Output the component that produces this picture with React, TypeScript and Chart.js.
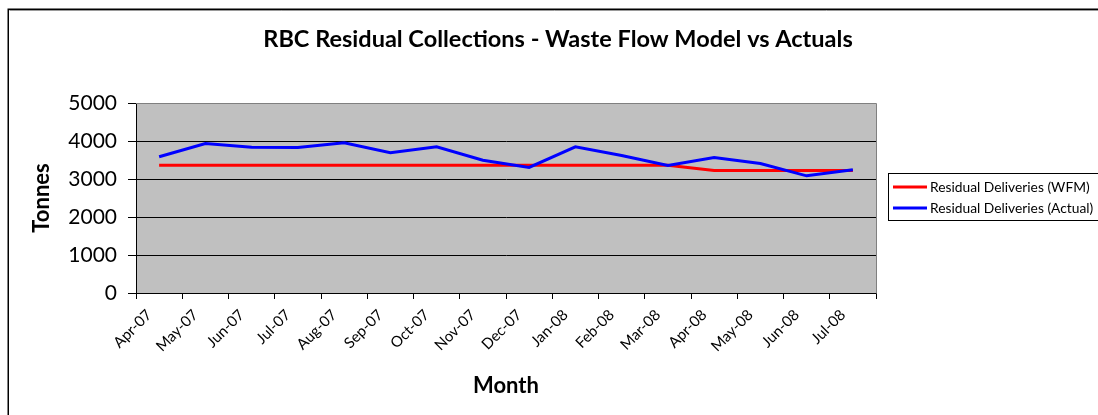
import React, { useEffect, useRef } from 'react';
import { Chart, registerables } from 'chart.js';

Chart.register(...registerables);

const chartTitle = 'RBC Residual Collections - Waste Flow Model vs Actuals';
const xAxisTitle = 'Month';
const yAxisTitle = 'Tonnes';

const months = [
  'Apr-07', 'May-07', 'Jun-07', 'Jul-07', 'Aug-07', 'Sep-07', 'Oct-07', 'Nov-07',
  'Dec-07', 'Jan-08', 'Feb-08', 'Mar-08', 'Apr-08', 'May-08', 'Jun-08', 'Jul-08',
];

const wfmName = 'Residual Deliveries (WFM)';
const wfmValues = [
  3364, 3364, 3364, 3364, 3364, 3364, 3364, 3364,
  3364, 3364, 3364, 3364, 3224, 3224, 3224, 3224,
];

const actualName = 'Residual Deliveries (Actual)';
const actualValues = [
  3584, 3934, 3837, 3832, 3952, 3689, 3847, 3495,
  3303, 3847, 3618, 3355, 3566, 3408, 3083, 3241,
];

const yMin = 0;
const yMax = 5000;
const yStep = 1000;

const WIDTH = 1098;
const HEIGHT = 415;
const FONT = 'Lato, "Liberation Sans", Arial, sans-serif';

const decorPlugin = {
  id: 'decor',
  beforeDraw(chart: any) {
    const { ctx, chartArea: a } = chart;
    ctx.save();
    ctx.fillStyle = '#ffffff';
    ctx.fillRect(0, 0, chart.width, chart.height);
    ctx.fillStyle = '#C0C0C0';
    ctx.fillRect(a.left, a.top, a.right - a.left, a.bottom - a.top);
    // outer frame
    ctx.strokeStyle = '#000000';
    ctx.lineWidth = 1.5;
    ctx.strokeRect(8.25, 9.25, chart.width + 40, chart.height + 40);
    ctx.strokeStyle = '#9a9a9a';
    ctx.lineWidth = 1;
    ctx.beginPath();
    ctx.moveTo(9.5, 10.5);
    ctx.lineTo(chart.width + 10, 10.5);
    ctx.stroke();
    // chart title
    ctx.fillStyle = '#000000';
    ctx.font = `bold 23.5px ${FONT}`;
    ctx.textAlign = 'center';
    ctx.textBaseline = 'alphabetic';
    ctx.fillText(chartTitle, 558, 47);
    ctx.restore();
  },
  beforeDatasetsDraw(chart: any) {
    const { ctx, chartArea: a } = chart;
    ctx.save();
    ctx.strokeStyle = '#808080';
    ctx.lineWidth = 1;
    ctx.beginPath();
    ctx.moveTo(a.left, Math.round(a.top) + 0.5);
    ctx.lineTo(Math.round(a.right) + 0.5, Math.round(a.top) + 0.5);
    ctx.lineTo(Math.round(a.right) + 0.5, Math.round(a.bottom) + 0.5);
    ctx.stroke();
    ctx.restore();
  },
  afterDraw(chart: any) {
    const { ctx } = chart;
    const datasets = chart.data.datasets;
    const items = [datasets[0], datasets[1]];
    ctx.save();
    ctx.fillStyle = '#ffffff';
    ctx.fillRect(888.5, 173.5, 300, 47);
    ctx.strokeStyle = '#000000';
    ctx.lineWidth = 1;
    ctx.strokeRect(888.5, 173.5, 300, 47);
    ctx.font = `13.8px ${FONT}`;
    ctx.textAlign = 'left';
    ctx.textBaseline = 'middle';
    items.forEach((ds: any, i: number) => {
      const y = 187 + i * 21;
      ctx.strokeStyle = ds.borderColor;
      ctx.lineWidth = 3;
      ctx.beginPath();
      ctx.moveTo(893, y);
      ctx.lineTo(927, y);
      ctx.stroke();
      ctx.fillStyle = '#000000';
      ctx.fillText(ds.label, 930, y + 0.5);
    });
    ctx.restore();
  },
};

export default function App() {
  const canvasRef = useRef<HTMLCanvasElement | null>(null);

  useEffect(() => {
    const canvas = canvasRef.current;
    if (!canvas) return;
    const chart = new Chart(canvas, {
      type: 'line',
      data: {
        labels: months,
        datasets: [
          {
            label: wfmName,
            data: wfmValues,
            borderColor: '#FF0000',
            backgroundColor: '#FF0000',
            borderWidth: 3,
            pointRadius: 0,
            tension: 0,
            order: 1,
          },
          {
            label: actualName,
            data: actualValues,
            borderColor: '#0000FF',
            backgroundColor: '#0000FF',
            borderWidth: 3,
            pointRadius: 0,
            tension: 0,
            order: 0,
          },
        ],
      },
      options: {
        responsive: false,
        animation: false,
        devicePixelRatio: 1,
        layout: { padding: { top: 103, right: WIDTH - 876, left: 0, bottom: 0 } },
        plugins: {
          legend: { display: false },
          title: { display: false },
          tooltip: { enabled: false },
        },
        scales: {
          x: {
            type: 'category',
            offset: true,
            afterFit(scale: any) {
              scale.height = HEIGHT - 293;
            },
            grid: {
              offset: true,
              drawOnChartArea: false,
              drawTicks: true,
              tickLength: 6,
              color: '#000000',
            },
            border: { color: '#000000', width: 1 },
            ticks: {
              autoSkip: false,
              maxRotation: 45,
              minRotation: 45,
              padding: 7,
              labelOffset: -10,
              color: '#000000',
              font: { family: FONT, size: 15 },
            },
            title: {
              display: true,
              text: xAxisTitle,
              color: '#000000',
              font: { family: FONT, size: 22, weight: 'bold' },
              padding: { top: 0, bottom: 16 },
            },
          },
          y: {
            min: yMin,
            max: yMax,
            afterFit(scale: any) {
              scale.width = 136;
            },
            grid: {
              color: (c: any) => (c.tick && c.tick.value === yMax ? '#808080' : '#000000'),
              tickColor: '#000000',
              tickLength: 8,
            },
            border: { color: '#000000', width: 1 },
            ticks: {
              stepSize: yStep,
              padding: 11,
              color: '#000000',
              font: { family: FONT, size: 21 },
              callback: (v: any) => String(v),
            },
            title: {
              display: true,
              text: yAxisTitle,
              color: '#000000',
              font: { family: FONT, size: 22, weight: 'bold' },
              padding: { top: 29, bottom: 0 },
            },
          },
        },
      },
      plugins: [decorPlugin],
    });
    return () => chart.destroy();
  }, []);

  return (
    <div style={{ position: 'absolute', left: 0, top: 0, width: WIDTH, height: HEIGHT, background: '#fff' }}>
      <canvas ref={canvasRef} width={WIDTH} height={HEIGHT} style={{ display: 'block' }} />
    </div>
  );
}
